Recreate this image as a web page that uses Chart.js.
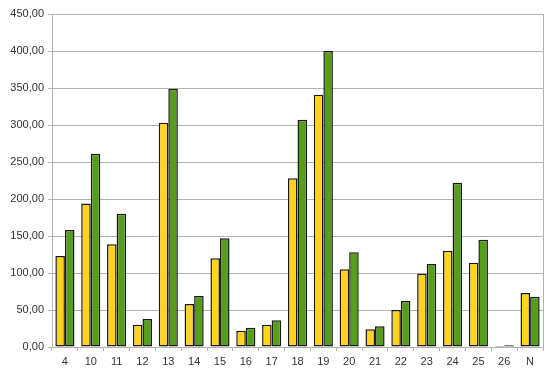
<!DOCTYPE html>
<html>
<head>
<meta charset="utf-8">
<script src="https://cdn.jsdelivr.net/npm/chart.js@4.4.0/dist/chart.umd.min.js"></script>
<style>
  html, body { margin: 0; padding: 0; background: #fff; }
  #wrap { width: 553px; height: 376px; position: relative; }
</style>
</head>
<body>
<div id="wrap"><canvas id="chart"></canvas></div>
<script>
// categories and two series
const categories = ['4', '10', '11', '12', '13', '14', '15', '16', '17', '18', '19', '20', '21', '22', '23', '24', '25', '26', 'N'];
const seriesYellow = [123, 194, 139, 30, 303, 58, 120, 22, 30, 228, 341, 105, 24, 50, 99, 130, 114, 1.5, 73];
const seriesGreen = [158, 261, 180, 38, 349, 69, 147, 26, 36, 307, 400, 128, 28, 62, 112, 222, 145, 2.5, 68];
const yTicks = [0, 50, 100, 150, 200, 250, 300, 350, 400, 450];

const gridColor = '#b3b3b3';
const textColor = '#333333';

// draws the right edge of the plot frame
const frame = {
    id: 'frame',
    beforeDatasetsDraw(chart) {
        const { ctx, chartArea: a } = chart;
        ctx.save();
        ctx.strokeStyle = gridColor;
        ctx.lineWidth = 1;
        ctx.beginPath();
        ctx.moveTo(Math.round(a.right) + 0.5, a.top);
        ctx.lineTo(Math.round(a.right) + 0.5, a.bottom);
        ctx.stroke();
        ctx.restore();
    }
};

new Chart(document.getElementById('chart'), {
    type: 'bar',
    data: {
        labels: categories,
        datasets: [
            {
                data: seriesYellow,
                backgroundColor: '#ffd320',
                borderColor: '#1a1a1a',
                borderWidth: 1.5,
                borderSkipped: false,
                categoryPercentage: 0.74,
                barPercentage: 1
            },
            {
                data: seriesGreen,
                backgroundColor: '#579d1c',
                borderColor: '#1a1a1a',
                borderWidth: 1.5,
                borderSkipped: false,
                categoryPercentage: 0.74,
                barPercentage: 1
            }
        ]
    },
    options: {
        responsive: true,
        maintainAspectRatio: false,
        animation: false,
        layout: { padding: { top: 14, right: 10, left: 0, bottom: 0 } },
        plugins: {
            legend: { display: false },
            tooltip: { enabled: false }
        },
        scales: {
            x: {
                offset: true,
                grid: {
                    offset: true,
                    drawOnChartArea: false,
                    drawTicks: true,
                    tickLength: 4,
                    color: gridColor
                },
                border: { color: gridColor },
                ticks: {
                    color: textColor,
                    font: { family: "'Liberation Sans', Arial, sans-serif", size: 11 },
                    padding: 4,
                    maxRotation: 0
                },
                afterFit(scale) { scale.height = 29; }
            },
            y: {
                min: 0,
                max: 450,
                afterBuildTicks(scale) { scale.ticks = yTicks.map(v => ({ value: v })); },
                grid: { color: gridColor, tickLength: 4 },
                border: { color: gridColor },
                ticks: {
                    color: textColor,
                    font: { family: "'Liberation Sans', Arial, sans-serif", size: 11 },
                    padding: 4,
                    callback: v => v.toFixed(2).replace('.', ',')
                },
                afterFit(scale) { scale.width = 52; }
            }
        }
    },
    plugins: [frame]
});
</script>
</body>
</html>
